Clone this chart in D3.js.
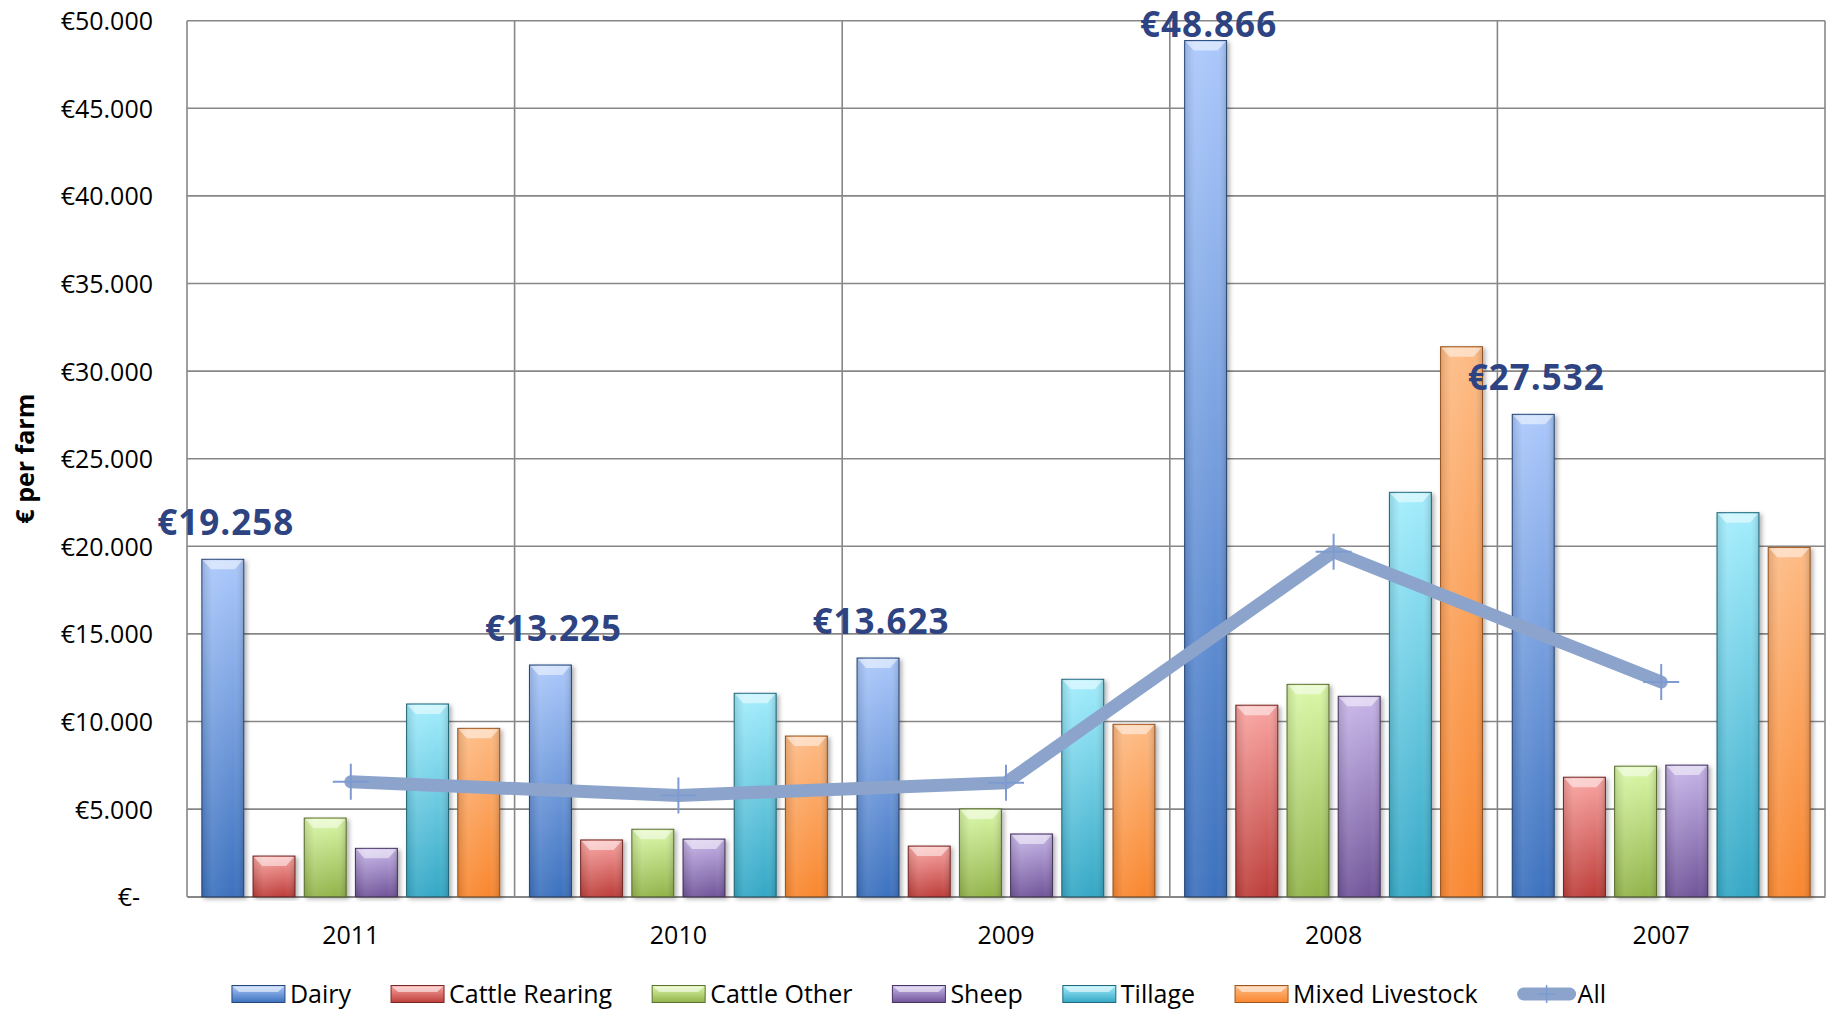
<!DOCTYPE html>
<html>
<head>
<meta charset="utf-8">
<script src="https://cdn.jsdelivr.net/npm/d3@7"></script>
<style>
  html, body { margin: 0; padding: 0; background: #fff; }
  svg { display: block; font-family: 'Open Sans', sans-serif; }
</style>
</head>
<body>
<div class="canvas"></div>
<script>
// Data
const years = ['2011', '2010', '2009', '2008', '2007']
const seriesNames = ['Dairy', 'Cattle Rearing', 'Cattle Other', 'Sheep', 'Tillage', 'Mixed Livestock']
const dairy = [19258, 13225, 13623, 48866, 27532]
const cattleRearing = [2320, 3240, 2890, 10930, 6820]
const cattleOther = [4490, 3850, 5010, 12120, 7450]
const sheep = [2760, 3290, 3580, 11440, 7510]
const tillage = [11000, 11610, 12410, 23080, 21920]
const mixedLivestock = [9610, 9170, 9840, 31390, 19940]
const allFarms = [6560, 5780, 6510, 19690, 12250]
const yTicks = [0, 5000, 10000, 15000, 20000, 25000, 30000, 35000, 40000, 45000, 50000]

// gradient colours per series [light top, dark bottom]
const colours = [
  ['#abc8fb', '#3c71be'],
  ['#f9a4a1', '#bd3e3a'],
  ['#daf8a8', '#92b34a'],
  ['#c7b5e8', '#71559a'],
  ['#a3edfd', '#34a7c5'],
  ['#fdbb85', '#f9872f']
]
const lineColour = '#8ca4cc'

const seriesValues = [dairy, cattleRearing, cattleOther, sheep, tillage, mixedLivestock]
const rows = years.map((yr, i) => ({
  year: yr,
  bars: seriesNames.map((s, j) => ({ series: s, idx: j, value: seriesValues[j][i] })),
  all: allFarms[i]
}))

const width = 1834
const height = 1010
const margin = { top: 20.7, right: 9, bottom: 113.3, left: 187 }

const svg = d3.select('.canvas')
  .append('svg')
    .attr('width', width)
    .attr('height', height)

const defs = svg.append('defs')
colours.forEach((c, j) => {
  const g = defs.append('linearGradient')
    .attr('id', 'grad' + j)
    .attr('x1', 0).attr('y1', 0).attr('x2', 0).attr('y2', 1)
  g.append('stop').attr('offset', '0%').attr('stop-color', c[0])
  g.append('stop').attr('offset', '100%').attr('stop-color', c[1])
})
// horizontal shading over bars
const side = defs.append('linearGradient').attr('id', 'side')
  .attr('x1', 0).attr('y1', 0).attr('x2', 1).attr('y2', 0)
side.append('stop').attr('offset', '0%').attr('stop-color', '#000').attr('stop-opacity', 0.12)
side.append('stop').attr('offset', '25%').attr('stop-color', '#fff').attr('stop-opacity', 0.08)
side.append('stop').attr('offset', '75%').attr('stop-color', '#fff').attr('stop-opacity', 0.0)
side.append('stop').attr('offset', '100%').attr('stop-color', '#000').attr('stop-opacity', 0.15)

const shadow = defs.append('filter').attr('id', 'shadow')
  .attr('x', '-20%').attr('y', '-5%').attr('width', '150%').attr('height', '115%')
shadow.append('feDropShadow')
  .attr('dx', 2.5).attr('dy', 2).attr('stdDeviation', 2)
  .attr('flood-color', '#000').attr('flood-opacity', 0.3)

const x0 = d3.scaleBand()
  .domain(years)
  .range([margin.left, width - margin.right])

const x1 = d3.scaleBand()
  .domain(seriesNames)
  .range([0, x0.bandwidth()])
  .paddingInner(0.18)
  .paddingOuter(0.29)

const y = d3.scaleLinear()
  .domain([0, 50000])
  .range([height - margin.bottom, margin.top])

const euro = d3.formatLocale({ decimal: ',', thousands: '.', grouping: [3], currency: ['€', ''] })
const fmt = euro.format('$,.0f')

// gridlines
const grid = svg.append('g')
grid.selectAll('line.h')
  .data(yTicks)
  .enter()
  .append('line')
    .attr('class', 'h')
    .attr('x1', margin.left)
    .attr('x2', width - margin.right)
    .attr('y1', (d) => y(d))
    .attr('y2', (d) => y(d))
    .attr('stroke', '#878787')
    .attr('stroke-width', 1.6)

const vLines = years.map((yr) => x0(yr)).concat([x0(years[years.length - 1]) + x0.bandwidth()])
grid.selectAll('line.v')
  .data(vLines)
  .enter()
  .append('line')
    .attr('class', 'v')
    .attr('x1', (d) => d)
    .attr('x2', (d) => d)
    .attr('y1', y(50000))
    .attr('y2', y(0))
    .attr('stroke', '#878787')
    .attr('stroke-width', 1.6)

// y axis labels
const yAxis = svg.append('g')
  .attr('transform', `translate(${margin.left},0)`)
  .call(d3.axisLeft(y).tickValues(yTicks).tickSize(0).tickPadding(34)
    .tickFormat((d) => d === 0 ? '€-' : fmt(d)))
yAxis.select('.domain').remove()
yAxis.selectAll('text')
  .attr('font-family', "'Open Sans', sans-serif")
  .attr('font-size', 25)
  .attr('fill', '#000')
  .attr('dy', '0.36em')
  .attr('dx', (d) => d === 0 ? -13 : 0)

// x axis labels
const xAxis = svg.append('g')
  .attr('transform', `translate(0,${y(0)})`)
  .call(d3.axisBottom(x0).tickSize(0).tickPadding(30))
xAxis.select('.domain')
  .attr('stroke', '#878787')
  .attr('stroke-width', 1.6)
xAxis.selectAll('text')
  .attr('font-family', "'Open Sans', sans-serif")
  .attr('font-size', 25)
  .attr('fill', '#000')

// y axis title
svg.append('text')
  .attr('transform', `translate(34,${(y(0) + y(50000)) / 2}) rotate(-90)`)
  .attr('text-anchor', 'middle')
  .attr('font-size', 25)
  .attr('font-weight', 'bold')
  .attr('fill', '#000')
  .text('€ per farm')

// bars
const groups = svg.selectAll('g.year')
  .data(rows)
  .enter()
  .append('g')
    .attr('class', 'year')
    .attr('transform', (d) => `translate(${x0(d.year)},0)`)

const bars = groups.selectAll('g.bar')
  .data((d) => d.bars)
  .enter()
  .append('g')
    .attr('class', 'bar')

bars.append('rect')
  .attr('x', (d) => x1(d.series))
  .attr('y', (d) => y(d.value))
  .attr('width', x1.bandwidth())
  .attr('height', (d) => y(0) - y(d.value))
  .attr('fill', (d) => `url(#grad${d.idx})`)
  .attr('stroke', (d) => d3.color(colours[d.idx][1]).darker(1.3))
  .attr('stroke-width', 1)
  .attr('filter', 'url(#shadow)')

bars.append('rect')
  .attr('x', (d) => x1(d.series))
  .attr('y', (d) => y(d.value))
  .attr('width', x1.bandwidth())
  .attr('height', (d) => y(0) - y(d.value))
  .attr('fill', 'url(#side)')

// top bevel
bars.append('polygon')
  .attr('points', (d) => {
    const bx = x1(d.series)
    const by = y(d.value)
    const w = x1.bandwidth()
    return [[bx + 1, by + 1], [bx + w - 1, by + 1], [bx + w - 9, by + 10], [bx + 9, by + 10]].join(' ')
  })
  .attr('fill', '#fff')
  .attr('fill-opacity', 0.5)

// All line
const line = d3.line()
  .x((d) => x0(d.year) + x0.bandwidth() / 2)
  .y((d) => y(d.all))

svg.append('path')
  .datum(rows)
  .attr('d', line)
  .attr('fill', 'none')
  .attr('stroke', lineColour)
  .attr('stroke-width', 13)
  .attr('stroke-linejoin', 'round')
  .attr('stroke-linecap', 'round')

const markers = svg.selectAll('g.marker')
  .data(rows)
  .enter()
  .append('g')
    .attr('class', 'marker')
    .attr('transform', (d) => `translate(${x0(d.year) + x0.bandwidth() / 2},${y(d.all)})`)
markers.append('line')
  .attr('x1', -18).attr('x2', 18).attr('y1', 0).attr('y2', 0)
  .attr('stroke', '#7d9bd0').attr('stroke-width', 2)
markers.append('line')
  .attr('x1', 0).attr('x2', 0).attr('y1', -18).attr('y2', 18)
  .attr('stroke', '#7d9bd0').attr('stroke-width', 2)

// dairy value labels
svg.selectAll('text.value')
  .data(rows)
  .enter()
  .append('text')
    .attr('class', 'value')
    .attr('x', (d) => x0(d.year) + x1('Dairy') + x1.bandwidth() / 2 + 3)
    .attr('y', (d) => Math.max(y(d.bars[0].value) - 24, 37))
    .attr('text-anchor', 'middle')
    .attr('font-size', 35)
    .attr('font-weight', 'bold')
    .attr('letter-spacing', 1)
    .attr('fill', '#2e4381')
    .text((d) => fmt(d.bars[0].value))

// legend
const legend = svg.append('g')
const legendY = 994
const legendGap = 40
let cursor = 0
const items = seriesNames.concat(['All'])
items.forEach((name, j) => {
  const item = legend.append('g').attr('transform', `translate(${cursor},0)`)
  if (j < seriesNames.length) {
    item.append('rect')
      .attr('x', 0).attr('y', legendY - 8.5)
      .attr('width', 53).attr('height', 17)
      .attr('fill', `url(#grad${j})`)
      .attr('stroke', d3.color(colours[j][1]).darker(1.3))
      .attr('stroke-width', 1)
    item.append('polygon')
      .attr('points', [[1, legendY - 7.5], [52, legendY - 7.5], [46, legendY - 2], [7, legendY - 2]].join(' '))
      .attr('fill', '#fff').attr('fill-opacity', 0.55)
  } else {
    item.append('line')
      .attr('x1', 6).attr('x2', 52).attr('y1', legendY).attr('y2', legendY)
      .attr('stroke', lineColour).attr('stroke-width', 13).attr('stroke-linecap', 'round')
    item.append('line')
      .attr('x1', 29).attr('x2', 29).attr('y1', legendY - 9).attr('y2', legendY + 9)
      .attr('stroke', '#7d9bd0').attr('stroke-width', 1.5)
    item.append('line')
      .attr('x1', 20).attr('x2', 38).attr('y1', legendY).attr('y2', legendY)
      .attr('stroke', '#7d9bd0').attr('stroke-width', 1.5)
  }
  const t = item.append('text')
    .attr('x', j < seriesNames.length ? 58 : 60)
    .attr('y', legendY + 9)
    .attr('font-size', 25)
    .attr('fill', '#000')
    .text(name)
  const tw = t.node().getComputedTextLength()
  cursor += (j < seriesNames.length ? 58 : 60) + tw + legendGap
})
const legendWidth = cursor - legendGap
legend.attr('transform', `translate(${(width - legendWidth) / 2 + 2},0)`)
</script>
</body>
</html>
